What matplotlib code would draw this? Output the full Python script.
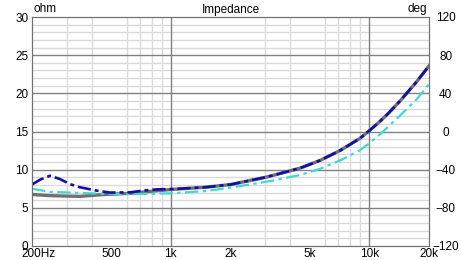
import matplotlib
matplotlib.use('Agg')
import matplotlib.pyplot as plt
import matplotlib.transforms as mtransforms
from matplotlib.ticker import FixedLocator, NullFormatter

plt.rcParams['font.family'] = ['Liberation Sans', 'DejaVu Sans']

# Data
freq_navy = [200, 220, 246, 275, 311, 348, 424, 494, 623, 722, 851, 1000,
             1500, 2000, 3000, 3560, 4480, 5640, 7120, 8980, 10000, 11300,
             12500, 14300, 17300, 20000]
z_navy = [8.05, 8.7, 9.2, 8.8, 8.1, 7.7, 7.25, 7.0, 7.03, 7.25, 7.42, 7.45,
          7.7, 8.05, 9.0, 9.5, 10.2, 11.2, 12.5, 14.1, 15.1, 16.3,
          17.4, 19.0, 21.5, 23.6]

freq_cyan = [200, 246, 311, 424, 623, 1000, 1500, 2000, 3000, 3560, 4480,
             5640, 7120, 8980, 10000, 11300, 14300, 17300, 20000]
z_cyan = [7.5, 7.1, 7.0, 6.87, 6.8, 6.9, 7.2, 7.65, 8.4, 8.78, 9.3,
          10.1, 11.2, 12.55, 13.45, 14.6, 17.1, 19.2, 21.2]

freq_gray = [200, 246, 287, 348, 455, 623, 750, 1000, 1500, 2000, 3000,
             3560, 4480, 5640, 7120, 8980, 10000, 11300, 12500, 14300,
             17300, 20000]
z_gray = [6.75, 6.6, 6.55, 6.5, 6.73, 6.9, 7.1, 7.4, 7.7, 8.05, 9.0,
          9.5, 10.2, 11.2, 12.5, 14.1, 15.1, 16.3, 17.4, 19.0,
          21.5, 23.6]

x_ticks = [200, 500, 1000, 2000, 5000, 10000, 20000]
x_labels = ['200Hz', '500', '1k', '2k', '5k', '10k', '20k']
x_minor = [300, 400, 600, 700, 800, 900, 2000, 3000, 4000, 5000, 6000,
           7000, 8000, 9000, 20000]
deg_ticks = [-120, -80, -40, 0, 40, 80, 120]

W, H = 461, 260
fig = plt.figure(figsize=(W / 100, H / 100), dpi=100)
ax = fig.add_axes([32 / W, (H - 246) / H, 397 / W, 229 / H])

ax.set_xscale('log')
ax.set_xlim(200, 20000)
ax.set_ylim(0, 30)

# grid
ax.xaxis.set_major_locator(FixedLocator(x_ticks))
ax.xaxis.set_minor_locator(FixedLocator(x_minor))
ax.xaxis.set_minor_formatter(NullFormatter())
ax.set_xticklabels(x_labels)
ax.set_yticks(range(0, 31, 5))
ax.set_yticks(range(0, 31, 1), minor=True)
ax.grid(True, which='minor', color='#dadada', lw=1)
for yv in range(5, 30, 5):
    ax.axhline(yv, color='#808080', lw=1, zorder=1.5)
for xv in [1000, 10000]:
    ax.axvline(xv, color='#808080', lw=1, zorder=1.5)
ax.set_axisbelow(True)

# curves
ax.plot(freq_gray, z_gray, color='#707070', lw=2.4, zorder=3)
ax.plot(freq_cyan, z_cyan, color='#40d8d0', lw=1.6, ls=(0, (6, 2, 1.5, 2)), zorder=4)
ax.plot(freq_navy, z_navy, color='#1010a8', lw=1.9, ls=(0, (5, 1.5, 1.5, 1.5)), zorder=5)

for s in ax.spines.values():
    s.set_color('#707070')
ax.tick_params(which='both', length=0)
ax.tick_params(axis='y', pad=2.5, labelsize=8.5)
ax.tick_params(axis='x', pad=1.5, labelsize=8.5)

# shift 200Hz label so that "200" sits on the axis
lbl = ax.get_xticklabels()[0]
lbl.set_transform(lbl.get_transform() + mtransforms.ScaledTranslation(0.07, 0, fig.dpi_scale_trans))

ax2 = ax.twinx()
ax2.set_ylim(-120, 120)
ax2.set_yticks(deg_ticks)
ax2.tick_params(length=0, pad=12, labelsize=8.5)
for t in ax2.get_yticklabels():
    t.set_horizontalalignment('center')
for s in ax2.spines.values():
    s.set_color('#707070')

fig.text(231 / W, 1 - 10 / H, 'Impedance', ha='center', va='center', fontsize=8.5)
fig.text(34 / W, 1 - 9 / H, 'ohm', ha='left', va='center', fontsize=8.5)
fig.text(427 / W, 1 - 9 / H, 'deg', ha='right', va='center', fontsize=8.5)

fig.savefig('out.png', dpi=100)
